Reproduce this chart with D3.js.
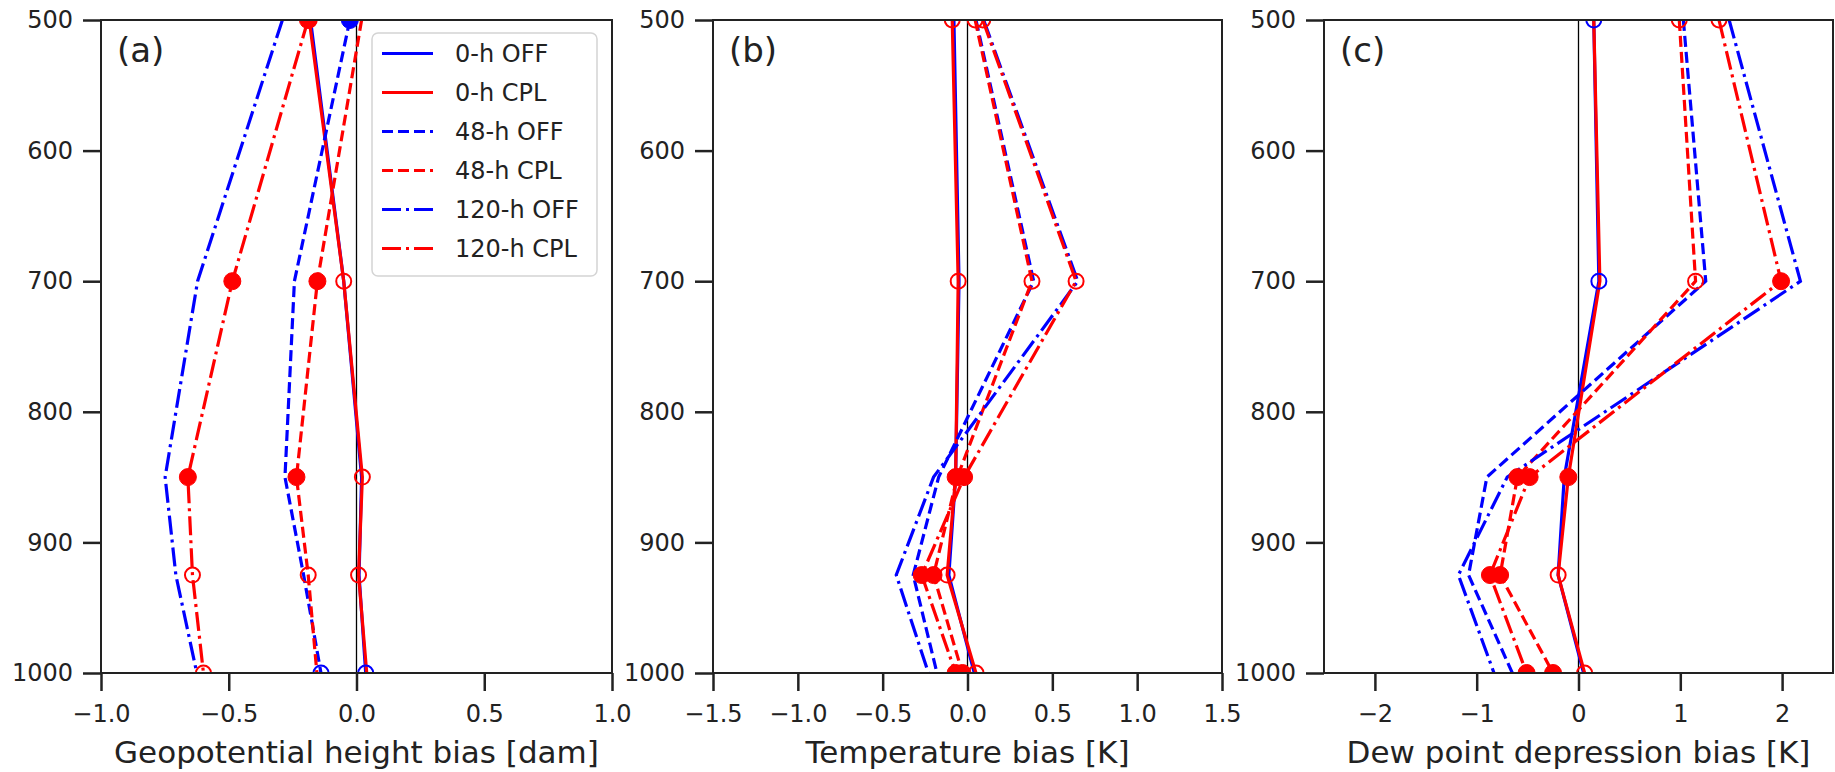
<!DOCTYPE html>
<html>
<head>
  <meta charset="utf-8">
  <script src="https://d3js.org/d3.v7.min.js"></script>
  <style>
    body { margin: 0; background: #fff; }
    text { font-family: "DejaVu Sans", sans-serif; fill: #222; }
  </style>
</head>
<body>
  <svg id="chart"></svg>

  <script>
    // pressure levels [hPa]
    const levels = [500, 700, 850, 925, 1000];
    const pressureTicks = [500, 600, 700, 800, 900, 1000];
    const runs = ['0-h OFF', '0-h CPL', '48-h OFF', '48-h CPL', '120-h OFF', '120-h CPL'];

    // (a) geopotential height bias [dam], one row per run (order of runs)
    const gphBias = [
      [-0.18, -0.05, 0.02, 0.01, 0.036],
      [-0.185, -0.05, 0.023, 0.008, 0.04],
      [-0.026, -0.243, -0.28, -0.207, -0.139],
      [0.02, -0.153, -0.235, -0.189, -0.155],
      [-0.29, -0.622, -0.749, -0.707, -0.625],
      [-0.19, -0.486, -0.66, -0.642, -0.599]
    ];
    // (b) temperature bias [K]
    const tBias = [
      [-0.08, -0.05, -0.07, -0.11, 0.04],
      [-0.09, -0.055, -0.07, -0.12, 0.05],
      [0.05, 0.39, -0.17, -0.32, -0.18],
      [0.045, 0.38, -0.06, -0.2, -0.03],
      [0.095, 0.65, -0.2, -0.42, -0.23],
      [0.09, 0.64, -0.02, -0.27, -0.07]
    ];
    // (c) dew point depression bias [K]
    const tdBias = [
      [0.15, 0.2, -0.14, -0.2, 0.05],
      [0.15, 0.21, -0.1, -0.2, 0.06],
      [1.03, 1.25, -0.9, -1.08, -0.65],
      [0.99, 1.15, -0.6, -0.77, -0.25],
      [1.48, 2.18, -0.7, -1.18, -0.83],
      [1.38, 1.99, -0.48, -0.87, -0.51]
    ];

    // markers: 0 none, 1 open circle, 2 filled circle
    const gphMarks = [
      [0, 0, 0, 0, 1],
      [1, 1, 1, 1, 0],
      [2, 0, 0, 0, 1],
      [0, 2, 2, 1, 0],
      [0, 0, 0, 0, 0],
      [2, 2, 2, 1, 1]
    ];
    const tMarks = [
      [0, 0, 0, 0, 0],
      [1, 1, 2, 1, 1],
      [0, 0, 0, 0, 0],
      [1, 1, 2, 2, 2],
      [0, 0, 0, 0, 0],
      [1, 1, 2, 2, 2]
    ];
    const tdMarks = [
      [1, 1, 0, 0, 0],
      [0, 0, 2, 1, 1],
      [0, 0, 0, 0, 0],
      [1, 1, 2, 2, 2],
      [0, 0, 0, 0, 0],
      [1, 2, 2, 2, 2]
    ];

    const gphTicks = [-1, -0.5, 0, 0.5, 1];
    const tTicks = [-1.5, -1, -0.5, 0, 0.5, 1, 1.5];
    const tdTicks = [-2, -1, 0, 1, 2];

    const W = 1835, H = 772;
    const plotTop = 20, plotBottom = 673;

    const colorOf = i => i % 2 === 0 ? '#0000ff' : '#ff0000';
    const dashOf = i => i < 2 ? null : (i < 4 ? '11,5' : '19,5,3,5');

    const panels = [
      { left: 101, right: 612, domain: [-1, 1], ticks: gphTicks, fmt: d3.format('.1f'),
        title: 'Geopotential height bias [dam]', tag: '(a)', values: gphBias, marks: gphMarks },
      { left: 713, right: 1222, domain: [-1.5, 1.5], ticks: tTicks, fmt: d3.format('.1f'),
        title: 'Temperature bias [K]', tag: '(b)', values: tBias, marks: tMarks },
      { left: 1324, right: 1833, domain: [-2.5, 2.5], ticks: tdTicks, fmt: d3.format('d'),
        title: 'Dew point depression bias [K]', tag: '(c)', values: tdBias, marks: tdMarks }
    ];

    const svg = d3.select('#chart').attr('width', W).attr('height', H);

    const y = d3.scaleLinear().domain([500, 1000]).range([plotTop, plotBottom]);

    panels.forEach((p, pi) => {
      const x = d3.scaleLinear().domain(p.domain).range([p.left, p.right]);
      const g = svg.append('g');

      const clipId = 'clip' + pi;
      svg.append('clipPath').attr('id', clipId)
        .append('rect')
        .attr('x', p.left).attr('y', plotTop)
        .attr('width', p.right - p.left).attr('height', plotBottom - plotTop);

      // zero line
      g.append('line')
        .attr('x1', x(0)).attr('x2', x(0))
        .attr('y1', plotTop).attr('y2', plotBottom)
        .attr('stroke', '#000').attr('stroke-width', 1.3);

      const plot = g.append('g').attr('clip-path', `url(#${clipId})`);

      const line = d3.line()
        .x(d => x(d[0]))
        .y(d => y(d[1]));

      p.values.forEach((vals, i) => {
        plot.append('path')
          .datum(vals.map((v, k) => [v, levels[k]]))
          .attr('d', line)
          .attr('fill', 'none')
          .attr('stroke', colorOf(i))
          .attr('stroke-width', 3.2)
          .attr('stroke-dasharray', dashOf(i));
      });

      p.values.forEach((vals, i) => {
        vals.forEach((v, k) => {
          const m = p.marks[i][k];
          if (!m) return;
          plot.append('circle')
            .attr('cx', x(v)).attr('cy', y(levels[k]))
            .attr('r', m === 2 ? 8.5 : 7.5)
            .attr('fill', m === 2 ? colorOf(i) : 'none')
            .attr('stroke', colorOf(i))
            .attr('stroke-width', m === 2 ? 1 : 2);
        });
      });

      // frame
      g.append('rect')
        .attr('x', p.left).attr('y', plotTop)
        .attr('width', p.right - p.left).attr('height', plotBottom - plotTop)
        .attr('fill', 'none').attr('stroke', '#222').attr('stroke-width', 2);

      const xAxis = g.append('g')
        .attr('transform', `translate(0,${plotBottom})`)
        .call(d3.axisBottom(x).tickValues(p.ticks).tickFormat(p.fmt).tickSize(18).tickPadding(14));
      const yAxis = g.append('g')
        .attr('transform', `translate(${p.left},0)`)
        .call(d3.axisLeft(y).tickValues(pressureTicks).tickFormat(d3.format('d'))
          .tickSize(18).tickPadding(10));

      [xAxis, yAxis].forEach(a => {
        a.select('.domain').remove();
        a.selectAll('.tick line').attr('stroke', '#222').attr('stroke-width', 2.5);
        a.selectAll('.tick text')
          .style('font-family', '"DejaVu Sans", sans-serif')
          .style('font-size', '24px').attr('fill', '#222');
      });

      g.append('text')
        .attr('x', (p.left + p.right) / 2).attr('y', 763)
        .attr('text-anchor', 'middle')
        .style('font-size', '31px')
        .text(p.title);

      g.append('text')
        .attr('x', p.left + 16).attr('y', 62)
        .style('font-size', '34px')
        .text(p.tag);
    });

    // legend in panel (a)
    const leg = svg.append('g');
    leg.append('rect')
      .attr('x', 372).attr('y', 33).attr('width', 225).attr('height', 243)
      .attr('rx', 6)
      .attr('fill', '#fff').attr('fill-opacity', 0.85)
      .attr('stroke', '#d4d4d4').attr('stroke-width', 1.5);

    runs.forEach((name, i) => {
      const ry = 53.5 + i * 39;
      leg.append('line')
        .attr('x1', 382).attr('x2', 433)
        .attr('y1', ry).attr('y2', ry)
        .attr('stroke', colorOf(i)).attr('stroke-width', 3.2)
        .attr('stroke-dasharray', dashOf(i));
      leg.append('text')
        .attr('x', 455).attr('y', ry)
        .attr('dy', '0.36em')
        .style('font-size', '24px')
        .text(name);
    });
  </script>
</body>
</html>
